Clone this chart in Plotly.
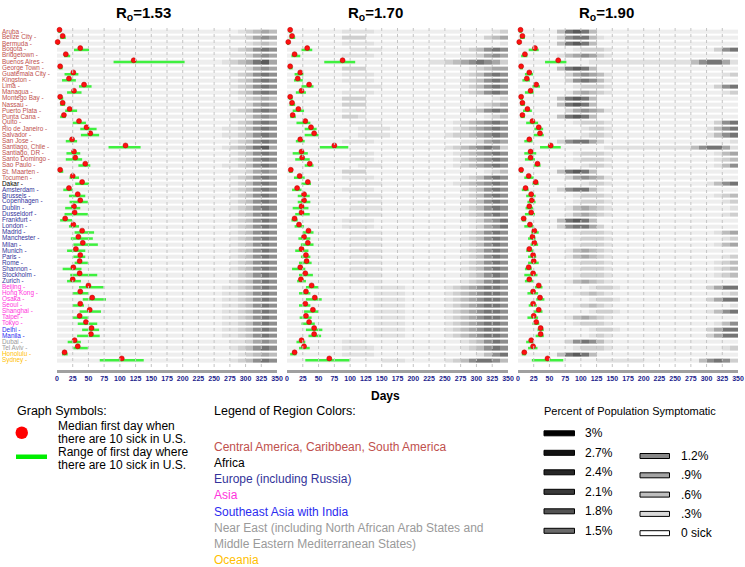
import plotly.graph_objects as go

# ---------------- DATA ----------------
cities = ["Aruba", "Belize City", "Bermuda", "Bogota", "Bridgetown", "Buenos Aires", "George Town",
          "Guatemala City", "Kingston", "Lima", "Managua", "Montego Bay", "Nassau", "Puerto Plata",
          "Punta Cana", "Quito", "Rio de Janeiro", "Salvador", "San Jose", "Santiago, Chile",
          "Santiago, DR", "Santo Domingo", "Sao Paulo", "St. Maarten", "Tocumen", "Dakar",
          "Amsterdam", "Brussels", "Copenhagen", "Dublin", "Dusseldorf", "Frankfurt", "London",
          "Madrid", "Manchester", "Milan", "Munich", "Paris", "Rome", "Shannon", "Stockholm",
          "Zurich", "Beijing", "Hong Kong", "Osaka", "Seoul", "Shanghai", "Taipei", "Tokyo",
          "Delhi", "Manila", "Dubai", "Tel Aviv", "Honolulu", "Sydney"]
city_region = [0, 0, 0, 0, 0, 0, 0, 0, 0, 0, 0, 0, 0, 0, 0, 0, 0, 0, 0, 0, 0, 0, 0, 0, 0,
               1,
               2, 2, 2, 2, 2, 2, 2, 2, 2, 2, 2, 2, 2, 2, 2, 2,
               3, 3, 3, 3, 3, 3, 3,
               4, 4,
               5, 5,
               6, 6]
region_labels = ["Central America, Caribbean, South America", "Africa", "Europe (including Russia)",
                 "Asia", "Southeast Asia with India",
                 "Near East (including North African Arab States and",
                 "Middle Eastern Mediterranean States)", "Oceania"]
region_label_region = [0, 1, 2, 3, 4, 5, 5, 6]
region_colors = ["#c0504d", "#000000", "#33339a", "#ff33dd", "#2b2bf0", "#9a9a9a", "#ffc000"]

panel_titles = ["R<sub>o</sub>=1.53", "R<sub>o</sub>=1.70", "R<sub>o</sub>=1.90"]
day_ticks = [0, 25, 50, 75, 100, 125, 150, 175, 200, 225, 250, 275, 300, 325, 350]

r153_median = [4, 9, 1, 37, 14, 122, 5, 26, 19, 43, 27, 5, 9, 20, 11, 35, 47, 53, 24, 109, 27, 29, 45, 5, 25,
               40, 19, 33, 37, 27, 28, 13, 26, 40, 34, 41, 30, 37, 36, 26, 36, 25, 50, 37, 56, 37, 52, 36, 46,
               55, 54, 28, 33, 12, 103]
r153_low = [2, 5, 0, 27, 11, 90, 3, 12, 8, 35, 16, 3, 5, 13, 5, 25, 37, 38, 14, 82, 15, 14, 34, 3, 20,
            29, 10, 19, 20, 13, 12, 5, 19, 28, 22, 26, 16, 26, 28, 9, 21, 16, 35, 25, 41, 25, 36, 25, 33,
            40, 32, 17, 26, 8, 68]
r153_high = [6, 14, 3, 51, 21, 203, 9, 34, 30, 55, 39, 10, 13, 32, 14, 46, 63, 67, 32, 133, 37, 40, 53, 10, 35,
             51, 25, 45, 49, 37, 49, 24, 35, 59, 57, 65, 45, 45, 49, 39, 64, 38, 74, 51, 78, 43, 70, 49, 64,
             67, 68, 38, 49, 17, 138]

r170_median = [5, 8, 2, 32, 12, 88, 5, 21, 17, 35, 23, 5, 8, 18, 9, 29, 38, 43, 21, 75, 23, 24, 36, 6, 20,
               33, 16, 27, 27, 23, 23, 12, 19, 34, 27, 33, 23, 30, 31, 21, 29, 22, 39, 30, 44, 29, 41, 30, 35,
               43, 43, 23, 27, 12, 67]
r170_low = [3, 4, 0, 23, 7, 59, 3, 12, 11, 23, 14, 3, 4, 9, 5, 15, 28, 28, 14, 52, 9, 13, 28, 3, 11,
            23, 8, 17, 17, 9, 13, 7, 12, 25, 18, 22, 13, 22, 19, 8, 19, 16, 30, 19, 30, 19, 27, 20, 23,
            30, 34, 15, 19, 5, 29]
r170_high = [7, 13, 3, 40, 21, 108, 9, 26, 25, 42, 30, 9, 13, 27, 14, 37, 47, 50, 28, 97, 33, 36, 42, 9, 28,
             38, 23, 36, 37, 34, 36, 17, 27, 42, 37, 42, 34, 37, 39, 29, 41, 30, 49, 37, 55, 37, 50, 39, 44,
             56, 54, 29, 36, 15, 99]

r190_median = [4, 7, 2, 27, 11, 64, 5, 18, 14, 29, 20, 5, 7, 15, 7, 23, 33, 35, 18, 52, 20, 20, 31, 5, 17,
               28, 12, 21, 22, 18, 21, 9, 19, 26, 23, 26, 18, 24, 25, 17, 24, 18, 33, 24, 35, 24, 33, 25, 29,
               36, 36, 21, 24, 10, 47]
r190_low = [2, 3, 0, 17, 5, 43, 3, 11, 7, 23, 11, 3, 4, 8, 4, 13, 26, 25, 10, 35, 10, 11, 25, 3, 10,
            23, 6, 13, 15, 12, 11, 6, 10, 21, 16, 20, 13, 16, 16, 11, 10, 11, 27, 15, 29, 17, 25, 15, 23,
            31, 28, 13, 16, 6, 22]
r190_high = [6, 11, 3, 33, 15, 77, 8, 24, 19, 35, 25, 8, 11, 22, 11, 32, 40, 41, 23, 68, 29, 27, 36, 8, 25,
             33, 17, 28, 28, 24, 27, 13, 25, 33, 28, 32, 25, 29, 33, 22, 31, 25, 39, 32, 42, 30, 39, 32, 34,
             41, 41, 25, 31, 13, 72]

# symptomatic intensity per city, 28 bins of 12.5 days each (0 = none ... 9 = darkest)
sick_bin_days = 12.5
r153_sick = [
    "00000000000000000000" "00012343",
    "00000000000000000000" "00112454",
    "00000000000000000000" "00001232",
    "00000000000000000000" "00123565",
    "00000000000000000000" "00112454",
    "00000000000000000000" "01234674",
    "00000000000000000000" "00112454",
    "00000000000000000000" "00123565",
    "00000000000000000000" "00123565",
    "00000000000000000000" "00123565",
    "00000000000000000000" "00123565",
    "00000000000000000000" "00012343",
    "00000000000000000000" "00112454",
    "00000000000000000000" "00123565",
    "00000000000000000000" "00112454",
    "00000000000000000000" "00123565",
    "00000000000000000000" "01123565",
    "00000000000000000000" "01123565",
    "00000000000000000000" "00123565",
    "00000000000000000000" "01234674",
    "00000000000000000000" "00123565",
    "00000000000000000000" "00123565",
    "00000000000000000000" "01123565",
    "00000000000000000000" "00112454",
    "00000000000000000000" "00123565",
    "00000000000000000000" "00123565",
    "00000000000000000000" "00123565",
    "00000000000000000000" "00123565",
    "00000000000000000000" "00123565",
    "00000000000000000000" "00123565",
    "00000000000000000000" "00123565",
    "00000000000000000000" "00123565",
    "00000000000000000000" "00123565",
    "00000000000000000000" "00123565",
    "00000000000000000000" "00123565",
    "00000000000000000000" "00123565",
    "00000000000000000000" "00123565",
    "00000000000000000000" "00123565",
    "00000000000000000000" "00123565",
    "00000000000000000000" "00123565",
    "00000000000000000000" "00123565",
    "00000000000000000000" "00123565",
    "00000000000000000000" "01123565",
    "00000000000000000000" "01123565",
    "00000000000000000000" "01123565",
    "00000000000000000000" "01123565",
    "00000000000000000000" "01123565",
    "00000000000000000000" "01123565",
    "00000000000000000000" "01123565",
    "00000000000000000000" "01123565",
    "00000000000000000000" "01123565",
    "00000000000000000000" "00112454",
    "00000000000000000000" "00123565",
    "00000000000000000000" "00012343",
    "00000000000000000000" "00123565",
]
r170_sick = [
    "00000001111000000000" "00000012",
    "00000002220000000000" "00000234",
    "00000001111000000000" "00000001",
    "00000000111100000000" "00123565",
    "00000001111000000000" "00112454",
    "00000000000000000011" "23456542",
    "00000002220000000000" "00012344",
    "00000001111000000000" "00123565",
    "00000001111000000000" "00123565",
    "00000000111100000000" "00123565",
    "00000001111000000000" "00123565",
    "00000002220000000000" "00000012",
    "00000002220000000000" "00001234",
    "00000001110000000000" "00123565",
    "00000002210000000000" "00000123",
    "00000000111100000000" "01234565",
    "00000000011110000000" "01234565",
    "00000000011110000000" "12234565",
    "00000001111000000000" "00112454",
    "00000000000000000000" "12345652",
    "00000000111000000000" "01234565",
    "00000000111000000000" "01234565",
    "00000000011100000000" "01234565",
    "00000002220000000000" "00000123",
    "00000001111000000000" "00123565",
    "00000000111100000000" "01234565",
    "00000001111000000000" "00123565",
    "00000000111100000000" "00123565",
    "00000000111100000000" "00123565",
    "00000000111100000000" "00123565",
    "00000000111100000000" "00123565",
    "00000001111000000000" "00012456",
    "00000001111000000000" "00012456",
    "00000000111100000000" "00123565",
    "00000000111100000000" "00123565",
    "00000000111100000000" "00123565",
    "00000000111100000000" "00123565",
    "00000000111100000000" "00123565",
    "00000000111100000000" "00123565",
    "00000000111100000000" "00123565",
    "00000000111100000000" "00123565",
    "00000000111100000000" "00123565",
    "00000000000111100000" "12345665",
    "00000000000111100000" "12345665",
    "00000000000111100000" "12345665",
    "00000000000111100000" "12345665",
    "00000000000111100000" "12345665",
    "00000000000111100000" "12345665",
    "00000000000111100000" "12345665",
    "00000000000111100000" "12345665",
    "00000000000111100000" "12345665",
    "00000001110000000000" "00123565",
    "00000001111000000000" "00123565",
    "00000001111000000000" "00001356",
    "00000000000011100000" "12356653",
]
r190_sick = [
    "00000367630000000000" "00000000",
    "00000256631000000000" "00000000",
    "00000367630000000000" "00000000",
    "00000001222100000000" "00000256",
    "00000134542100000000" "00000000",
    "00000000011111111111" "11356641",
    "00000367630000000000" "00000000",
    "00000024543100000000" "00000012",
    "00000025653100000000" "00000000",
    "00000001222100000000" "00000256",
    "00000013432100000000" "00000012",
    "00000367630000000000" "00000000",
    "00000367630000000000" "00000000",
    "00000024543100000000" "00000000",
    "00000367630000000000" "00000000",
    "00000001222100000000" "00000256",
    "00000000122100000000" "00001356",
    "00000000122100000000" "00001356",
    "00000256642000000000" "00000001",
    "00000000000111111111" "11356641",
    "00000001222100000000" "00000134",
    "00000001222100000000" "00000123",
    "00000000122100000000" "00000135",
    "00000367630000000000" "00000000",
    "00000024543100000000" "00000000",
    "00000000122100000000" "00001356",
    "00000256631000000000" "00000000",
    "00000001222100000000" "00000123",
    "00000001222100000000" "00000012",
    "00000013432100000000" "00000001",
    "00000013432100000000" "00000012",
    "00000367630000000000" "00000000",
    "00000256642000000000" "00000000",
    "00000001222100000000" "00000134",
    "00000001222100000000" "00000012",
    "00000001222100000000" "00000134",
    "00000013432100000000" "00000000",
    "00000013432100000000" "00000012",
    "00000001222100000000" "00000123",
    "00000001222100000000" "00000123",
    "00000001222100000000" "00000123",
    "00000013432100000000" "00000000",
    "00000000012210000000" "00002466",
    "00000001232100000000" "00000012",
    "00000000012210000000" "00002466",
    "00000001232100000000" "00000001",
    "00000000012210000000" "00001356",
    "00000013432100000000" "00000000",
    "00000001222100000000" "00000135",
    "00000000012210000000" "00002466",
    "00000000012100000000" "00002466",
    "00000025653100000000" "00000000",
    "00000001222100000000" "00000012",
    "00000367630000000000" "00000000",
    "00000000001111110000" "00035652",
]
sick_shades = ["#eeeeee", "#e0e0e0", "#cfcfcf", "#bcbcbc", "#a6a6a6",
               "#8e8e8e", "#747474", "#5a5a5a", "#444444", "#2e2e2e"]

pct_left_labels = ["3%", "2.7%", "2.4%", "2.1%", "1.8%", "1.5%"]
pct_left_colors = ["#000000", "#121212", "#262626", "#3a3a3a", "#525252", "#6a6a6a"]
pct_right_labels = ["1.2%", ".9%", ".6%", ".3%", "0 sick"]
pct_right_colors = ["#888888", "#a4a4a4", "#bebebe", "#dadada", "#ffffff"]

symbol_lines = ["Median first day when", "there are 10 sick in U.S.",
                "Range of first day where", "there are 10 sick in U.S."]

# ---------------- LAYOUT GEOMETRY ----------------
W_FIG, H_FIG = 745, 567
PLOT_L, PLOT_R, PLOT_T, PLOT_B = 57, 738, 28, 370      # window pixels of the plotting area
L, T = PLOT_L, PLOT_T
R = W_FIG - PLOT_R
B = H_FIG - PLOT_B
W = W_FIG - L - R
H = H_FIG - T - B


def pxx(x):
    return (x - PLOT_L) / W


def pyy(y):
    return 1 - (y - PLOT_T) / H


FONT = "Arial, Liberation Sans, sans-serif"
domains = [[pxx(57), pxx(277)], [pxx(287), pxx(508)], [pxx(518), 1.0]]
axis_names = ["x", "x2", "x3"]
n = len(cities)
rows = list(range(n))

panels = [
    (r153_median, r153_low, r153_high, r153_sick),
    (r170_median, r170_low, r170_high, r170_sick),
    (r190_median, r190_low, r190_high, r190_sick),
]

fig = go.Figure()
colorscale = [[k / 9, c] for k, c in enumerate(sick_shades)]
nbins = len(r153_sick[0])
bin_centers = [sick_bin_days * (k + 0.5) for k in range(nbins)]

for p, (med, lo, hi, sick) in enumerate(panels):
    ax = axis_names[p]
    z = [[int(ch) for ch in s] for s in sick]
    fig.add_trace(go.Heatmap(
        x=bin_centers, y=rows, z=z, xaxis=ax, yaxis="y",
        colorscale=colorscale, zmin=0, zmax=9, showscale=False,
        ygap=2, xgap=0, hoverinfo="skip"))
    lx, ly = [], []
    for i in rows:
        lx += [lo[i], hi[i], None]
        ly += [i, i, None]
    fig.add_trace(go.Scatter(
        x=lx, y=ly, mode="lines", xaxis=ax, yaxis="y",
        line=dict(color="#3ff03f", width=2.5), cliponaxis=False, hoverinfo="skip"))
    fig.add_trace(go.Scatter(
        x=med, y=[i - 0.3 for i in rows], mode="markers", xaxis=ax, yaxis="y",
        marker=dict(color="#ff1010", size=5, line=dict(width=0.5, color="#b00000")),
        cliponaxis=False, hoverinfo="skip"))

xaxis_common = dict(range=[0, 350], tickvals=day_ticks, ticktext=[str(d) for d in day_ticks],
                    tickangle=0, ticks="", showgrid=False, zeroline=False, automargin=False,
                    ticklabeloverflow="allow",
                    showline=True, linecolor="#a0a0a0", linewidth=3, anchor="y",
                    tickfont=dict(family=FONT, size=7, color="#1c1c8c", weight="bold"))
layout = dict(
    template="none",
    width=W_FIG, height=H_FIG,
    margin=dict(l=L, r=R, t=T, b=B, pad=0),
    paper_bgcolor="white", plot_bgcolor="white",
    showlegend=False,
    font=dict(family=FONT),
    yaxis=dict(range=[n + 0.6, -0.6], showticklabels=False, ticks="", showgrid=False,
               zeroline=False, showline=False, anchor="x", domain=[0, 1], automargin=False),
)
for p, ax in enumerate(axis_names):
    key = "xaxis" if ax == "x" else "xaxis" + ax[1:]
    layout[key] = dict(xaxis_common, domain=domains[p])
fig.update_layout(**layout)

shapes = []
# vertical dotted grid lines through every panel
for ax in axis_names:
    for d in day_ticks[1:-1]:
        shapes.append(dict(type="line", xref=ax, yref="y", x0=d, x1=d, y0=-0.6, y1=n + 0.6,
                           layer="above", line=dict(color="#c4c4c4", width=1, dash="dot")))

annotations = []
# city labels, left aligned at the figure's left edge, coloured by region
for i, c in enumerate(cities):
    annotations.append(dict(text=f"{c} -", x=pxx(1), y=i - 0.1, xref="paper", yref="y",
                            showarrow=False, xanchor="left", yanchor="middle", borderpad=0,
                            font=dict(family=FONT, size=6.4, color=region_colors[city_region[i]])))

# panel titles
title_centers = [143, 375, 606]
for t, cx in zip(panel_titles, title_centers):
    annotations.append(dict(text=f"<b>{t}</b>", x=pxx(cx), y=pyy(13), xref="paper", yref="paper",
                            showarrow=False, xanchor="center", yanchor="middle",
                            font=dict(family=FONT, size=15, color="black")))
annotations.append(dict(text="<b>Days</b>", x=pxx(385), y=pyy(396), xref="paper", yref="paper",
                        showarrow=False, xanchor="center", yanchor="middle",
                        font=dict(family=FONT, size=12, color="black")))

# graph symbols legend
annotations.append(dict(text="Graph Symbols:", x=pxx(15), y=pyy(411), xref="paper", yref="paper",
                        showarrow=False, xanchor="left", yanchor="middle",
                        font=dict(family=FONT, size=12.5, color="black")))
for k, s in enumerate(symbol_lines):
    annotations.append(dict(text=s, x=pxx(56), y=pyy(425.5 + 13.3 * k), xref="paper", yref="paper",
                            showarrow=False, xanchor="left", yanchor="middle",
                            font=dict(family=FONT, size=12, color="black")))
shapes.append(dict(type="circle", xref="paper", yref="paper",
                   x0=pxx(15.5), x1=pxx(28), y0=pyy(439), y1=pyy(426.5),
                   fillcolor="#ff0000", line=dict(width=0)))
shapes.append(dict(type="rect", xref="paper", yref="paper",
                   x0=pxx(16), x1=pxx(47), y0=pyy(459), y1=pyy(454.5),
                   fillcolor="#00ee00", line=dict(width=0)))

# region colour legend
annotations.append(dict(text="Legend of Region Colors:", x=pxx(212), y=pyy(411), xref="paper",
                        yref="paper", showarrow=False, xanchor="left", yanchor="middle",
                        font=dict(family=FONT, size=12.5, color="black")))
for k, (lab, rg) in enumerate(zip(region_labels, region_label_region)):
    annotations.append(dict(text=lab, x=pxx(212), y=pyy(446.7 + 16.2 * k), xref="paper", yref="paper",
                            showarrow=False, xanchor="left", yanchor="middle",
                            font=dict(family=FONT, size=12, color=region_colors[rg])))

# percent legend
annotations.append(dict(text="Percent of Population Symptomatic", x=pxx(542), y=pyy(411),
                        xref="paper", yref="paper", showarrow=False, xanchor="left", yanchor="middle",
                        font=dict(family=FONT, size=11, color="black")))
for k, (lab, col) in enumerate(zip(pct_left_labels, pct_left_colors)):
    yc = 433.3 + 19.5 * k
    shapes.append(dict(type="rect", xref="paper", yref="paper", x0=pxx(544), x1=pxx(574.5),
                       y0=pyy(yc + 2.5), y1=pyy(yc - 2.5), fillcolor=col,
                       line=dict(color="#000000", width=1)))
    annotations.append(dict(text=lab, x=pxx(583), y=pyy(yc), xref="paper", yref="paper",
                            showarrow=False, xanchor="left", yanchor="middle",
                            font=dict(family=FONT, size=12, color="black")))
for k, (lab, col) in enumerate(zip(pct_right_labels, pct_right_colors)):
    yc = 456 + 19.3 * k
    shapes.append(dict(type="rect", xref="paper", yref="paper", x0=pxx(640), x1=pxx(669.5),
                       y0=pyy(yc + 2.5), y1=pyy(yc - 2.5), fillcolor=col,
                       line=dict(color="#000000", width=1)))
    annotations.append(dict(text=lab, x=pxx(679), y=pyy(yc), xref="paper", yref="paper",
                            showarrow=False, xanchor="left", yanchor="middle",
                            font=dict(family=FONT, size=12, color="black")))

fig.update_layout(shapes=shapes, annotations=annotations)
# remove the browser's default 8px page margin so the figure fills the window exactly
fig.write_html("out.html", config={"displayModeBar": False},
               post_script="document.body.style.margin='0';document.body.style.overflow='hidden';")
